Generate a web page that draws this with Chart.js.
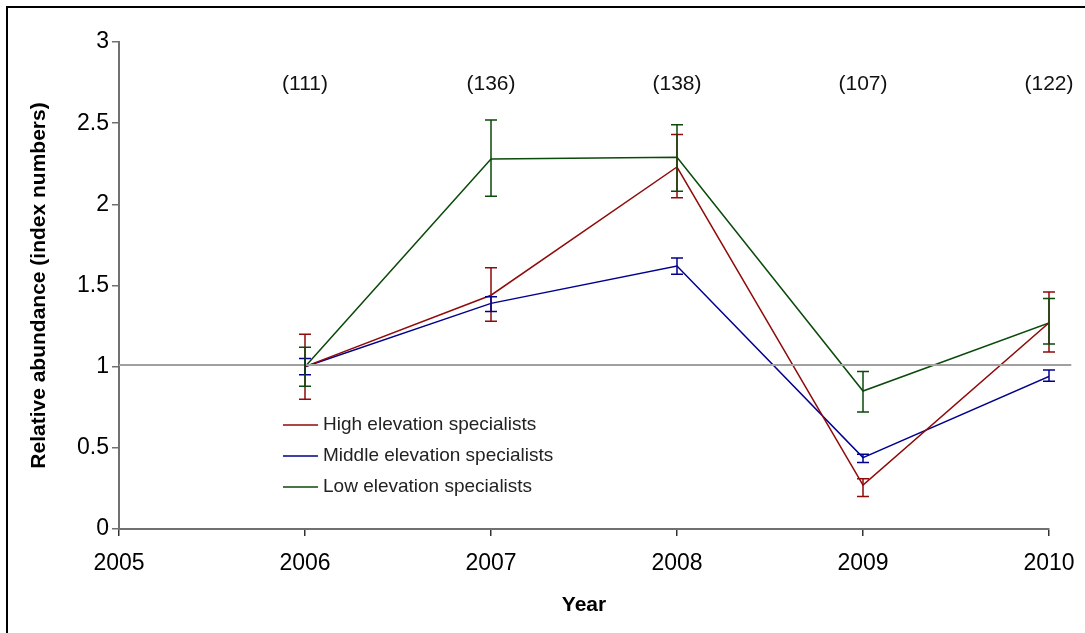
<!DOCTYPE html>
<html>
<head>
<meta charset="utf-8">
<script src="https://cdn.jsdelivr.net/npm/chart.js@4"></script>
<style>
  body { margin: 0; background: #fff; }
  #wrap { position: relative; width: 1085px; height: 633px; overflow: hidden; }
  #frame { position: absolute; left: 6px; top: 6px; width: 1100px; height: 700px;
           border-left: 2px solid #000; border-top: 2px solid #000; pointer-events: none; }
  canvas { position: absolute; left: 0; top: 0; }
</style>
</head>
<body>
<div id="wrap">
  <canvas id="abundanceChart" width="1085" height="633"></canvas>
  <div id="frame"></div>
</div>
<script>
// values
const years = [2006, 2007, 2008, 2009, 2010];
const sampleSizes = ['(111)', '(136)', '(138)', '(107)', '(122)'];

const highMean  = [1.00, 1.44, 2.23, 0.27, 1.27];
const highUpper = [1.20, 1.61, 2.43, 0.31, 1.46];
const highLower = [0.80, 1.28, 2.04, 0.20, 1.09];

const midMean  = [1.00, 1.39, 1.62, 0.44, 0.94];
const midUpper = [1.05, 1.43, 1.67, 0.46, 0.98];
const midLower = [0.95, 1.34, 1.57, 0.41, 0.91];

const lowMean  = [1.00, 2.28, 2.29, 0.85, 1.27];
const lowUpper = [1.12, 2.52, 2.49, 0.97, 1.42];
const lowLower = [0.88, 2.05, 2.08, 0.72, 1.14];

const refLevel = 1.01;
const yTicks = [0, 0.5, 1, 1.5, 2, 2.5, 3];

const toPoints = vals => vals.map((v, i) => ({ x: years[i], y: v }));

const RED = '#900a0a', BLUE = '#00008c', GREEN = '#0a4a0a';

// error bars, drawn from the dataset's upper/lower arrays
const errorBars = {
  id: 'errorBars',
  afterDatasetsDraw(chart) {
    const { ctx, scales: { x, y } } = chart;
    chart.data.datasets.forEach(ds => {
      if (!ds.upper) return;
      ctx.save();
      ctx.strokeStyle = ds.borderColor;
      ctx.lineWidth = 1.5;
      years.forEach((yr, i) => {
        const px = x.getPixelForValue(yr);
        const top = y.getPixelForValue(ds.upper[i]);
        const bot = y.getPixelForValue(ds.lower[i]);
        ctx.beginPath();
        ctx.moveTo(px, top); ctx.lineTo(px, bot);
        ctx.moveTo(px - 6, top); ctx.lineTo(px + 6, top);
        ctx.moveTo(px - 6, bot); ctx.lineTo(px + 6, bot);
        ctx.stroke();
      });
      ctx.restore();
    });
  }
};

// sample sizes above each year + legend inside plot
const annotations = {
  id: 'annotations',
  afterDraw(chart) {
    const { ctx, scales: { x, y } } = chart;
    ctx.save();
    ctx.fillStyle = '#111';
    ctx.font = '21px "Liberation Sans", Arial, sans-serif';
    ctx.textAlign = 'center';
    ctx.textBaseline = 'middle';
    sampleSizes.forEach((s, i) => {
      ctx.fillText(s, x.getPixelForValue(years[i]), y.getPixelForValue(2.74));
    });

    ctx.font = '19px "Liberation Sans", Arial, sans-serif';
    ctx.textAlign = 'left';
    const series = chart.data.datasets.filter(d => d.upper);
    series.forEach((ds, i) => {
      const ly = 425 + i * 31;
      ctx.strokeStyle = ds.borderColor;
      ctx.lineWidth = 1.5;
      ctx.beginPath();
      ctx.moveTo(283, ly); ctx.lineTo(318, ly);
      ctx.stroke();
      ctx.fillStyle = '#222';
      ctx.fillText(ds.label, 323, ly);
    });
    ctx.restore();
  }
};

const ctx = document.getElementById('abundanceChart').getContext('2d');
new Chart(ctx, {
  type: 'line',
  data: {
    datasets: [
      {
        label: 'ref',
        data: [{ x: 2005, y: refLevel }, { x: 2010.12, y: refLevel }],
        borderColor: '#a0a0a0',
        borderWidth: 2,
        pointRadius: 0,
        clip: false
      },
      {
        label: 'High elevation specialists',
        data: toPoints(highMean),
        upper: highUpper, lower: highLower,
        borderColor: RED, borderWidth: 1.5, pointRadius: 0
      },
      {
        label: 'Middle elevation specialists',
        data: toPoints(midMean),
        upper: midUpper, lower: midLower,
        borderColor: BLUE, borderWidth: 1.5, pointRadius: 0
      },
      {
        label: 'Low elevation specialists',
        data: toPoints(lowMean),
        upper: lowUpper, lower: lowLower,
        borderColor: GREEN, borderWidth: 1.5, pointRadius: 0
      }
    ]
  },
  options: {
    responsive: false,
    animation: false,
    layout: { padding: { top: 42, right: 36, left: 0, bottom: 0 } },
    plugins: {
      legend: { display: false },
      tooltip: { enabled: false }
    },
    scales: {
      x: {
        type: 'linear',
        min: 2005, max: 2010,
        ticks: {
          stepSize: 1,
          color: '#000',
          padding: 14,
          font: { family: '"Liberation Sans", Arial, sans-serif', size: 23 },
          callback: v => String(v)
        },
        grid: { drawOnChartArea: false, drawTicks: true, tickLength: 7, color: '#333', lineWidth: 1.5 },
        border: { color: '#707070', width: 2 },
        title: {
          display: true, text: 'Year', color: '#000',
          font: { family: '"Liberation Sans", Arial, sans-serif', size: 21, weight: 'bold' },
          padding: { top: 0, bottom: 15 }
        },
        afterFit: s => { s.height = 104; s.paddingRight = 0; s.paddingLeft = 0; }
      },
      y: {
        min: 0, max: 3,
        afterBuildTicks: s => { s.ticks = yTicks.map(v => ({ value: v })); },
        ticks: {
          color: '#000',
          padding: 3,
          font: { family: '"Liberation Sans", Arial, sans-serif', size: 23 },
          callback: v => String(v)
        },
        grid: { drawOnChartArea: false, drawTicks: true, tickLength: 7, color: '#707070', lineWidth: 1.5 },
        border: { color: '#707070', width: 2 },
        title: {
          display: true, text: 'Relative abundance (index numbers)', color: '#000',
          font: { family: '"Liberation Sans", Arial, sans-serif', size: 21, weight: 'bold' },
          padding: { top: 27, bottom: 0 }
        },
        afterFit: s => { s.width = 119; s.paddingTop = 0; s.paddingBottom = 0; }
      }
    }
  },
  plugins: [errorBars, annotations]
});
</script>
</body>
</html>
